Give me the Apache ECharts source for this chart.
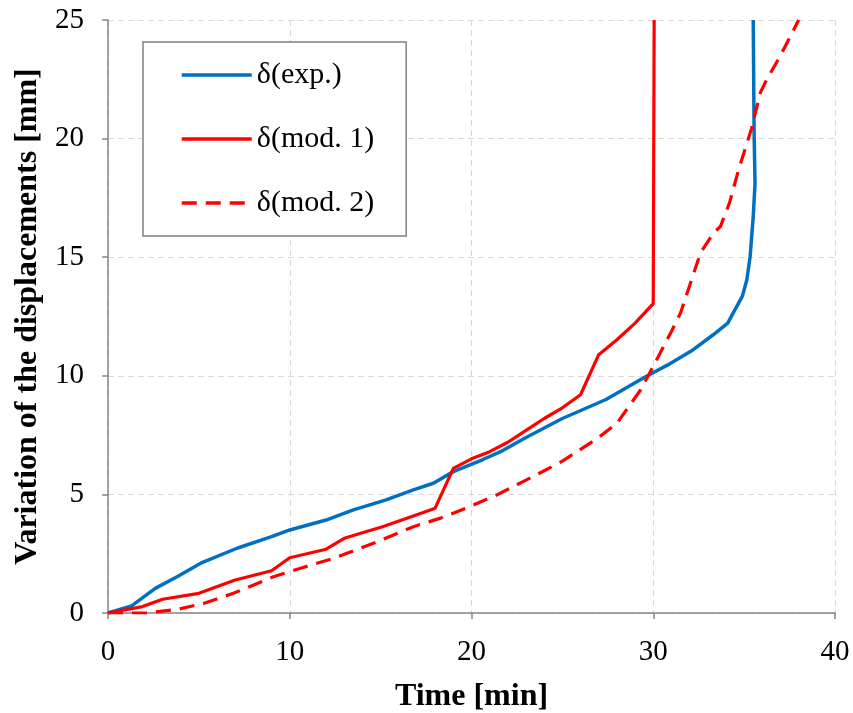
<!DOCTYPE html>
<html><head><meta charset="utf-8">
<script src="https://cdn.jsdelivr.net/npm/echarts@6/dist/echarts.min.js"></script>
<style>html,body{margin:0;padding:0;background:#fff}#c{width:853px;height:713px}</style>
</head><body><div id="c"></div>
<script>
const xTicks = [0, 10, 20, 30, 40];
const yTicks = [0, 5, 10, 15, 20, 25];
const seriesNames = ['δ(exp.)', 'δ(mod. 1)', 'δ(mod. 2)'];
const expT = [0, 1.3, 2.6, 3.8, 5.1, 7.1, 9.0, 10.0, 12.0, 13.5, 15.3, 16.8, 17.9, 19.0, 20.6, 21.6, 23.0, 25.0, 27.4, 29.6, 30.8, 32.2, 33.3, 34.1, 34.4, 34.9, 35.15, 35.33, 35.5, 35.6, 35.55, 35.5];
const expV = [0, 0.3, 1.04, 1.53, 2.1, 2.73, 3.22, 3.5, 3.92, 4.35, 4.77, 5.19, 5.47, 5.96, 6.46, 6.8, 7.4, 8.2, 9.0, 9.97, 10.46, 11.1, 11.73, 12.22, 12.65, 13.35, 14.05, 15.03, 16.7, 18.1, 20.2, 25];
const mod1T = [0, 1.9, 3.0, 5.0, 7.0, 9.0, 10.0, 12.0, 13.0, 15.1, 16.8, 18.0, 19.0, 20.0, 21.0, 22.0, 23.0, 24.0, 25.0, 26.0, 27.0, 28.0, 29.0, 30.0, 30.05];
const mod1V = [0, 0.27, 0.58, 0.83, 1.39, 1.78, 2.33, 2.69, 3.15, 3.64, 4.09, 4.42, 6.1, 6.5, 6.8, 7.2, 7.7, 8.2, 8.65, 9.2, 10.89, 11.52, 12.22, 13.04, 25];
const mod2T = [0, 2.1, 3.8, 5.25, 6.9, 9.1, 10.6, 12.4, 14.8, 16.8, 18.3, 19.7, 21.4, 23.0, 25.0, 26.0, 27.0, 28.0, 29.3, 30.0, 31.0, 31.5, 32.6, 33.3, 33.7, 34.2, 34.7, 35.4, 35.9, 36.25, 37.0, 38.0];
const mod2V = [0, 0, 0.15, 0.4, 0.83, 1.53, 1.89, 2.3, 3.0, 3.64, 4.0, 4.42, 4.98, 5.6, 6.4, 6.9, 7.4, 8.0, 9.4, 10.4, 11.87, 12.65, 15.18, 16.0, 16.3, 17.3, 18.7, 20.4, 21.95, 22.5, 23.5, 25.0];

const pair = (t, v) => t.map((x, i) => [x, v[i]]);
const font = 'Liberation Serif, Times New Roman, serif';
const chart = echarts.init(document.getElementById('c'));
chart.setOption({
  animation: false,
  backgroundColor: '#fff',
  grid: { left: 108, right: 18, top: 20, bottom: 100, outerBoundsMode: 'none', containLabel: false },
  xAxis: {
    type: 'value', min: xTicks[0], max: xTicks[xTicks.length - 1], interval: 10,
    name: 'Time [min]', nameLocation: 'middle', nameGap: 68,
    nameTextStyle: { fontFamily: font, fontWeight: 'bold', fontSize: 32, color: '#000' },
    axisLine: { lineStyle: { color: '#868686', width: 1.5 } },
    axisTick: { show: true, length: 6, lineStyle: { color: '#868686', width: 1.5 } },
    axisLabel: { fontFamily: font, fontSize: 29, color: '#000', margin: 25 },
    splitLine: { show: true, lineStyle: { color: '#d9d9d9', type: [6, 4], width: 1.2 } }
  },
  yAxis: {
    type: 'value', min: yTicks[0], max: yTicks[yTicks.length - 1], interval: 5,
    name: 'Variation of the displacements [mm]', nameLocation: 'middle', nameGap: 64,
    nameTextStyle: { fontFamily: font, fontWeight: 'bold', fontSize: 32, color: '#000' },
    axisLine: { show: true, lineStyle: { color: '#868686', width: 1.5 } },
    axisTick: { show: true, length: 6, lineStyle: { color: '#868686', width: 1.5 } },
    axisLabel: { fontFamily: font, fontSize: 29, color: '#000', margin: 24 },
    splitLine: { show: true, lineStyle: { color: '#d9d9d9', type: [6, 4], width: 1.2 } }
  },
  legend: {
    left: 143, top: 42, orient: 'vertical',
    data: seriesNames,
    itemWidth: 70, itemHeight: 14, itemGap: 34,
    padding: [18, 32, 18, 37],
    itemStyle: { opacity: 0 },
    lineStyle: { width: 3.5 },
    borderColor: '#808080', borderWidth: 1.5, backgroundColor: '#fff',
    textStyle: { fontFamily: font, fontSize: 30, color: '#000' }
  },
  series: [
    { name: seriesNames[0], type: 'line', data: pair(expT, expV), showSymbol: false, symbol: 'none',
      lineStyle: { color: '#0070C0', width: 3.5 }, itemStyle: { color: '#0070C0' } },
    { name: seriesNames[1], type: 'line', data: pair(mod1T, mod1V), showSymbol: false, symbol: 'none',
      lineStyle: { color: '#FF0000', width: 3.2 }, itemStyle: { color: '#FF0000' } },
    { name: seriesNames[2], type: 'line', data: pair(mod2T, mod2V), showSymbol: false, symbol: 'none',
      lineStyle: { color: '#FF0000', width: 3.2, type: [15, 9] }, itemStyle: { color: '#FF0000' } }
  ]
});
</script></body></html>
